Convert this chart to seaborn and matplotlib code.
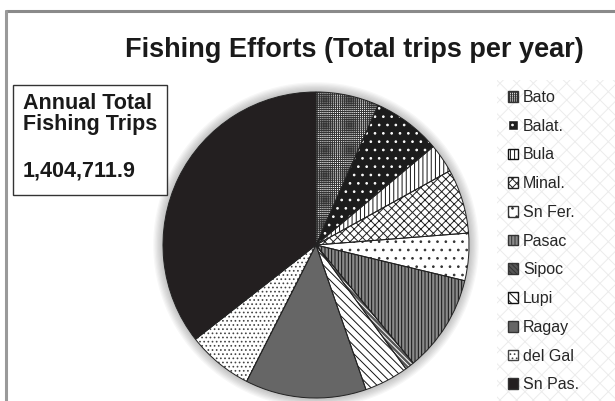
import matplotlib
matplotlib.use("Agg")
import matplotlib.pyplot as plt
import matplotlib.patches as mpatches
from matplotlib.lines import Line2D
import seaborn as sns

sns.set_style("white")
plt.rcParams['font.family'] = ['Liberation Sans', 'DejaVu Sans']
plt.rcParams['hatch.linewidth'] = 0.7

# data (total trips per year)
towns = ['Bato', 'Balat.', 'Bula', 'Minal.', 'Sn Fer.', 'Pasac', 'Sipoc',
         'Lupi', 'Ragay', 'del Gal', 'Sn Pas.']
trips = [93600, 101400, 42900, 95600, 70200, 144400, 13600,
         66000, 179500, 97500, 499400]
total_label = '1,404,711.9'

# fill style per slice: face, hatch, hatch colour
faces = ['white', '#1c1c1c', 'white', 'white', 'white', '#8a8a8a', '#555555',
         'white', '#666666', 'white', '#231f20']
hatches = ['++++++++', '..', '||||', 'xxxx', '..', '|||||', '\\' * 7,
           '\\' * 4, '', '....', '']
hcols = ['#333333', 'white', '#111111', '#222222', '#333333', '#111111',
         'white', '#111111', '#666666', '#444444', '#231f20']

W, H = 615, 401
fig = plt.figure(figsize=(W / 100, H / 100), dpi=100)

def fx(px):
    return px / W

def fy(py):
    return 1 - py / H

# outer frame lines (top and left only visible)
fig.add_artist(Line2D([fx(6), 1], [fy(11), fy(11)], color='#8a8a8a', lw=2.2))
fig.add_artist(Line2D([fx(6), fx(6)], [fy(11), 0], color='#9a9a9a', lw=2.2))

# legend background with faint diamond pattern
fig.add_artist(mpatches.Rectangle((fx(497), 0), 1 - fx(497), fy(80),
                                  transform=fig.transFigure, facecolor='white',
                                  edgecolor='#ececec', hatch='xx', lw=0))

# pie
cx, cy, r = 316, 245, 153
ax = fig.add_axes([fx(cx - r), fy(cy + r), 2 * r / W, 2 * r / H])
for k in range(8):
    ax.add_patch(mpatches.Circle((0.0, 0.0), 1.0 + 0.008 * (k + 1),
                                 color='#000000', alpha=0.03, lw=0,
                                 clip_on=False))
wedges, _ = ax.pie(trips, startangle=90, counterclock=False,
                   wedgeprops=dict(linewidth=0))
for w, fc, h, hc in zip(wedges, faces, hatches, hcols):
    w.set_facecolor(fc)
    w.set_hatch(h)
    w.set_edgecolor(hc)
    w.set_clip_on(False)
outlines, _ = ax.pie(trips, startangle=90, counterclock=False,
                     wedgeprops=dict(fill=False, edgecolor='#222222',
                                     linewidth=0.7))
for w in outlines:
    w.set_clip_on(False)
ax.set_xlim(-1, 1)
ax.set_ylim(-1, 1)
ax.set_axis_off()

# title
fig.text(fx(354), fy(57), 'Fishing Efforts (Total trips per year)',
         ha='center', va='baseline', fontsize=19.5, fontweight='bold',
         color='#1a1a1a')

# total box
fig.add_artist(mpatches.Rectangle((fx(13), fy(195)), fx(167) - fx(13),
                                  fy(85) - fy(195), transform=fig.transFigure,
                                  facecolor='white', edgecolor='#333333', lw=1))
for txt, base in [('Annual Total', 109), ('Fishing Trips', 130),
                  (total_label, 177)]:
    fig.text(fx(23), fy(base), txt, ha='left', va='baseline', fontsize=15.5,
             fontweight='bold', color='#1a1a1a')

# legend
handles = [mpatches.Patch(facecolor=fc, hatch=h,
                          edgecolor=(hc if fc == 'white' else '#333333'))
           for fc, h, hc in zip(faces, hatches, hcols)]
handles[1] = mpatches.Patch(facecolor='#1c1c1c', hatch='..', edgecolor='white')
fig.legend(handles, towns, loc='upper left',
           bbox_to_anchor=(fx(508), fy(90)), frameon=False, fontsize=11.5,
           handlelength=0.65, handleheight=0.65, handletextpad=0.3,
           labelspacing=0.86, borderpad=0, borderaxespad=0)

fig.savefig('out.png', dpi=100)
